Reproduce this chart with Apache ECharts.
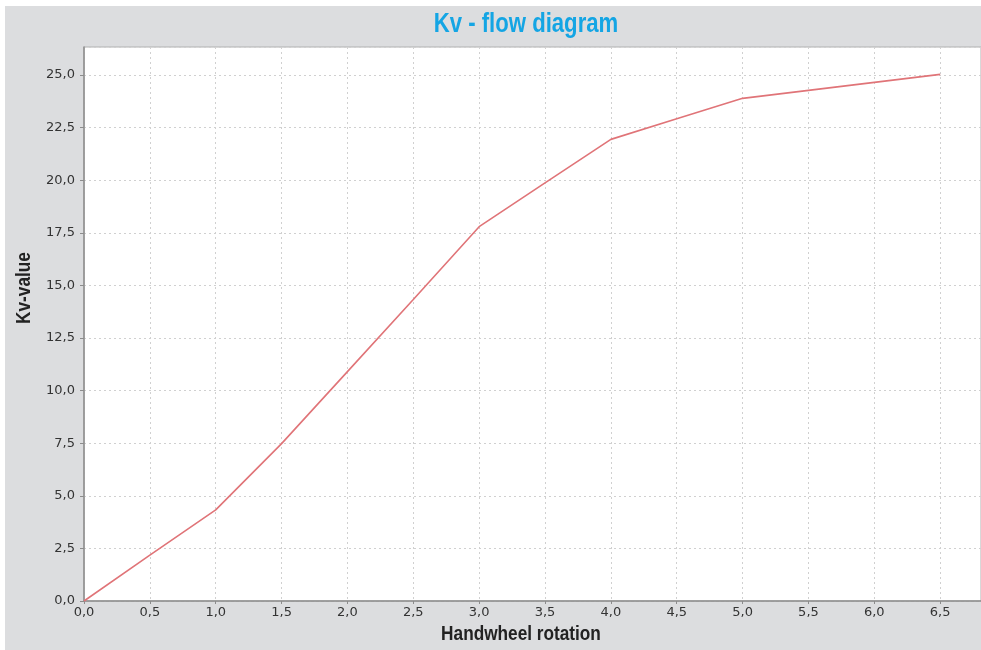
<!DOCTYPE html>
<html>
<head>
<meta charset="utf-8">
<script src="https://cdn.jsdelivr.net/npm/echarts@6/dist/echarts.min.js"></script>
<style>
  html, body { margin: 0; padding: 0; background: #fff; }
  #main { position: absolute; left: 5px; top: 6px; width: 976px; height: 644px; background: #dcdddf; }
</style>
</head>
<body>
<div id="main"></div>
<script>
// handwheel rotation vs Kv
var rotation = [0, 0.5, 1.0, 1.5, 2.0, 2.5, 3.0, 3.5, 4.0, 4.5, 5.0, 5.5, 6.0, 6.5];
var kvValue  = [0, 2.18, 4.33, 7.48, 10.9, 14.33, 17.79, 19.87, 21.94, 22.92, 23.89, 24.27, 24.65, 25.03];

var xTicks = 0.5, yTicks = 2.5;

var fmt = function (step) {
    return function (v) {
        var k = Math.round(v / step);
        if (Math.abs(k * step - v) > 1e-6) return '';
        return v.toFixed(1).replace('.', ',');
    };
};

var pts = [];
for (var i = 0; i < rotation.length; i++) {
    pts.push([rotation[i], kvValue[i]]);
}

// narrow bold text (squeezed Liberation Sans)
var narrow = function (txt, x, y, size, color, rot) {
    return {
        type: 'text',
        x: x,
        y: y,
        rotation: rot || 0,
        scaleX: 0.82,
        style: {
            text: txt,
            fill: color,
            font: 'bold ' + size + 'px "Liberation Sans", Arial',
            align: 'center',
            verticalAlign: 'middle'
        }
    };
};

var chart = echarts.init(document.getElementById('main'), null, {renderer: 'canvas'});
chart.setOption({
    animation: false,
    backgroundColor: '#dcdddf',
    grid: {
        left: 79,
        right: 0,
        top: 41,
        bottom: 49,
        show: true,
        backgroundColor: '#ffffff',
        borderColor: '#b0b0b0',
        borderWidth: 1
    },
    graphic: [
        narrow('Kv - flow diagram', 521, 19, 27, '#14a5e4'),
        narrow('Handwheel rotation', 516, 628, 21, '#222'),
        narrow('Kv-value', 19, 282, 21, '#222', Math.PI / 2)
    ],
    xAxis: {
        type: 'value',
        min: 0,
        max: 6.81,
        interval: xTicks,
        axisLine: {lineStyle: {color: '#8c8c8c', width: 1.5}},
        axisTick: {show: true, length: 3, lineStyle: {color: '#8c8c8c'}},
        axisLabel: {
            formatter: fmt(xTicks),
            color: '#333',
            fontFamily: 'DejaVu Sans',
            fontSize: 13,
            margin: 5,
            showMaxLabel: false
        },
        splitLine: {show: true, lineStyle: {color: '#d0d0d0', type: [2, 3]}}
    },
    yAxis: {
        type: 'value',
        min: 0,
        max: 26.33,
        interval: yTicks,
        axisLine: {show: true, lineStyle: {color: '#8c8c8c', width: 1.5}},
        axisTick: {show: true, length: 4, lineStyle: {color: '#8c8c8c'}},
        axisLabel: {
            formatter: fmt(yTicks),
            color: '#333',
            fontFamily: 'DejaVu Sans',
            fontSize: 13,
            margin: 9,
            showMaxLabel: false
        },
        splitLine: {show: true, lineStyle: {color: '#d0d0d0', type: [2, 3]}}
    },
    series: [{
        type: 'line',
        data: pts,
        symbol: 'none',
        lineStyle: {color: '#e07478', width: 1.6}
    }]
});
</script>
</body>
</html>
